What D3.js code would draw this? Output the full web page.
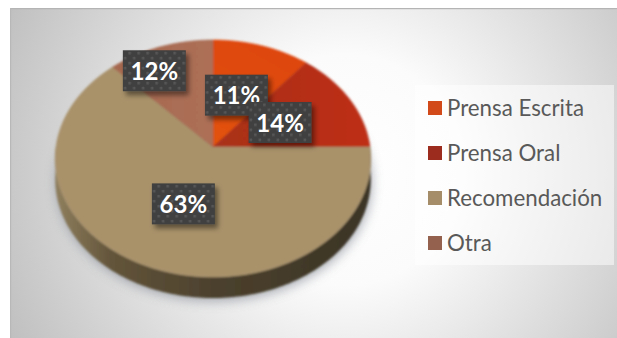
<!DOCTYPE html>
<html>
<head>
<meta charset="utf-8">
<script src="https://cdn.jsdelivr.net/npm/d3@7"></script>
<style>
  html, body { margin: 0; padding: 0; background: #fff; }
  svg { display: block; }
</style>
</head>
<body>
<svg id="chart" width="617" height="338"></svg>
<script>
// Survey answers: how people heard about the service
const categories = ["Prensa Escrita", "Prensa Oral", "Recomendación", "Otra"];
const shares = [11, 14, 63, 12];
const sliceColors = ["#dd4710", "#ad3119", "#a9926b", "#a5664f"];
const swatchColors = ["#d2491a", "#9b2c1e", "#a58d69", "#95614f"];

const svg = d3.select("#chart");
const defs = svg.append("defs");

// Panel background: light centre fading to grey corners
const panelGrad = defs.append("radialGradient").attr("id", "panelGrad")
  .attr("gradientUnits", "userSpaceOnUse")
  .attr("cx", 345).attr("cy", 170).attr("r", 385);
panelGrad.append("stop").attr("offset", "0").attr("stop-color", "#ffffff");
panelGrad.append("stop").attr("offset", "0.3").attr("stop-color", "#fbfbfb");
panelGrad.append("stop").attr("offset", "1").attr("stop-color", "#bdbdbd");

// Side wall of the disc
const wallGrad = defs.append("linearGradient").attr("id", "wallGrad")
  .attr("x1", 0).attr("x2", 1).attr("y1", 0).attr("y2", 0);
wallGrad.append("stop").attr("offset", "0").attr("stop-color", "#8f7f5e");
wallGrad.append("stop").attr("offset", "0.18").attr("stop-color", "#62543a");
wallGrad.append("stop").attr("offset", "0.5").attr("stop-color", "#4c412e");
wallGrad.append("stop").attr("offset", "1").attr("stop-color", "#3b3425");

// Lighter glow across the top of the two warm slices
const orangeGrad = defs.append("linearGradient").attr("id", "sliceGrad0")
  .attr("x1", 0.2).attr("x2", 0.7).attr("y1", 1).attr("y2", 0);
orangeGrad.append("stop").attr("offset", "0").attr("stop-color", "#e2520f");
orangeGrad.append("stop").attr("offset", "1").attr("stop-color", "#de4510");
const redGrad = defs.append("linearGradient").attr("id", "sliceGrad1")
  .attr("x1", 0).attr("x2", 1).attr("y1", 0).attr("y2", 0);
redGrad.append("stop").attr("offset", "0").attr("stop-color", "#a8301a");
redGrad.append("stop").attr("offset", "1").attr("stop-color", "#bf2f17");
const otherGrad = defs.append("linearGradient").attr("id", "sliceGrad3")
  .attr("x1", 0).attr("x2", 1).attr("y1", 0).attr("y2", 0);
otherGrad.append("stop").attr("offset", "0").attr("stop-color", "#a5684f");
otherGrad.append("stop").attr("offset", "1").attr("stop-color", "#ad7057");

const blurShadow = defs.append("filter").attr("id", "discShadow")
  .attr("x", "-20%").attr("y", "-20%").attr("width", "140%").attr("height", "140%");
blurShadow.append("feGaussianBlur").attr("stdDeviation", 6);

const softEdge = defs.append("filter").attr("id", "softEdge")
  .attr("x", "-5%").attr("y", "-5%").attr("width", "110%").attr("height", "110%");
softEdge.append("feGaussianBlur").attr("stdDeviation", 0.8);

const boxShadow = defs.append("filter").attr("id", "boxShadow")
  .attr("x", "-20%").attr("y", "-20%").attr("width", "150%").attr("height", "160%");
boxShadow.append("feDropShadow")
  .attr("dx", 3).attr("dy", 4).attr("stdDeviation", 2.5)
  .attr("flood-color", "#000").attr("flood-opacity", 0.45);

// Dotted texture of the value tags
const dots = defs.append("pattern").attr("id", "dots")
  .attr("patternUnits", "userSpaceOnUse").attr("width", 9).attr("height", 10);
dots.append("rect").attr("width", 9).attr("height", 10).attr("fill", "#3f3f3f");
dots.append("rect").attr("x", 1).attr("y", 1).attr("width", 2.6).attr("height", 2.6).attr("fill", "#575757");
dots.append("rect").attr("x", 5.5).attr("y", 6).attr("width", 2.6).attr("height", 2.6).attr("fill", "#575757");

// Panel
svg.append("rect").attr("x", 10).attr("y", 8).attr("width", 607).attr("height", 330)
  .attr("fill", "url(#panelGrad)");
svg.append("rect").attr("x", 10).attr("y", 8).attr("width", 607).attr("height", 1.2).attr("fill", "#b4b4b4");
svg.append("rect").attr("x", 10).attr("y", 8).attr("width", 1.2).attr("height", 330).attr("fill", "#b8b8b8");

// Tilted disc: a circle seen in perspective, apex nearer the far rim
const apex = { x: 213, y: 147 };
const radiusX = 157, radiusY = 117.4, tilt = 0.097, depth = 21;

const project = (angle, r = 1) => {
  const X = r * Math.sin(angle), Y = -r * Math.cos(angle);
  const w = 1 - tilt * Y;
  return [apex.x + radiusX * X / w, apex.y + radiusY * Y / w];
};
const line = d3.line();
const arcPoints = (a0, a1) => {
  const n = Math.max(2, Math.ceil((a1 - a0) / 0.02));
  return d3.range(n + 1).map(i => project(a0 + (a1 - a0) * i / n));
};

const pieAngles = d3.pie().sort(null).value(d => d)(shares);
const rim = arcPoints(0, 2 * Math.PI);

// Soft shadow cast on the panel
svg.append("path")
  .attr("d", line(rim.map(([x, y]) => [x + 1, y + 24])) + "Z")
  .attr("fill", "#8d939c").attr("opacity", 0.75)
  .attr("filter", "url(#discShadow)");

const disc = svg.append("g").attr("filter", "url(#softEdge)");

// Wall: the near half of the rim, joined to a copy pushed downward
const nearRim = arcPoints(Math.PI / 2, 3 * Math.PI / 2);
const wallPts = nearRim.concat(nearRim.slice().reverse().map(([x, y]) => [x, y + depth]));
disc.append("path").attr("d", line(wallPts) + "Z").attr("fill", "url(#wallGrad)");

// Top face slices
disc.selectAll("path.slice").data(pieAngles).join("path")
  .attr("class", "slice")
  .attr("d", d => line([[apex.x, apex.y], ...arcPoints(d.startAngle, d.endAngle)]) + "Z")
  .attr("fill", (d, i) => i === 2 ? sliceColors[i] : `url(#sliceGrad${i})`)
  .attr("stroke", (d, i) => sliceColors[i]).attr("stroke-width", 0.6);

// Value tags, placed midway along each slice's bisector
const tagW = 63, tagH = 41;
const tagNudge = [[-2, 1], [-2.5, 0], [3, 0.5], [-31, -24]];
const tagOrder = [2, 3, 0, 1];
const tags = svg.selectAll("g.tag").data(tagOrder).join("g").attr("class", "tag")
  .attr("transform", i => {
    const d = pieAngles[i];
    const [x, y] = project((d.startAngle + d.endAngle) / 2, 0.5);
    return `translate(${x + tagNudge[i][0]},${y + tagNudge[i][1]})`;
  });
tags.append("rect")
  .attr("x", -tagW / 2).attr("y", -tagH / 2).attr("width", tagW).attr("height", tagH)
  .attr("fill", "url(#dots)").attr("filter", "url(#boxShadow)");
tags.append("text")
  .attr("text-anchor", "middle").attr("y", 9)
  .attr("font-family", "Lato, sans-serif").attr("font-weight", 700)
  .attr("font-size", 24).attr("fill", "#fff")
  .text(i => shares[i] + "%");

// Legend
svg.append("rect").attr("x", 415).attr("y", 85).attr("width", 199).attr("height", 180)
  .attr("fill", "#fff").attr("fill-opacity", 0.5);
const legendY = d3.scalePoint().domain(categories).range([108, 243]);
const legend = svg.selectAll("g.key").data(categories).join("g").attr("class", "key")
  .attr("transform", d => `translate(428,${legendY(d)})`);
legend.append("rect").attr("y", -7).attr("width", 14).attr("height", 14)
  .attr("fill", (d, i) => swatchColors[i]);
legend.append("text").attr("x", 19).attr("y", 7.5)
  .attr("font-family", "Lato, sans-serif").attr("font-size", 22.3).attr("fill", "#595959")
  .text(d => d);
</script>
</body>
</html>
